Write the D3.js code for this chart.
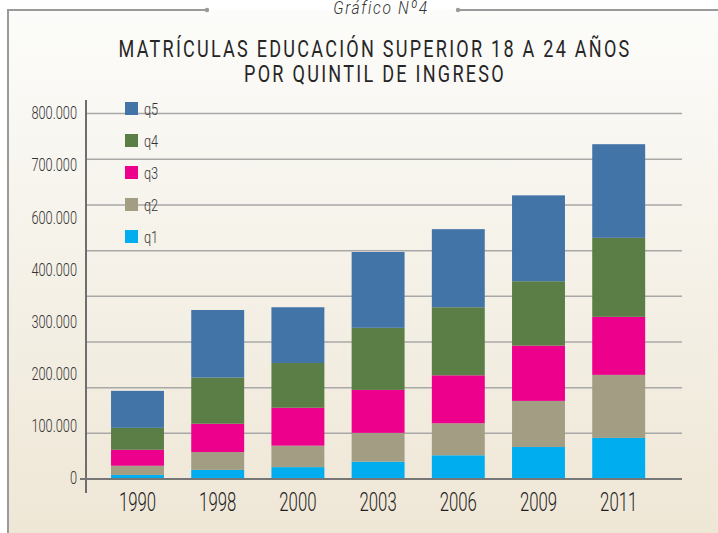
<!DOCTYPE html>
<html><head><meta charset="utf-8">
<script src="https://cdn.jsdelivr.net/npm/d3@7"></script>
<style>
html,body{margin:0;padding:0;background:#fff;}
svg{display:block;}
</style></head>
<body>
<svg id="chart" width="718" height="533"></svg>
<script>
const years = ["1990","1998","2000","2003","2006","2009","2011"];
const q1 = [9000, 20000, 26000, 38000, 52000, 70000, 90000];
const q2 = [20000, 39000, 47000, 63000, 70000, 101000, 138000];
const q3 = [35000, 62000, 83000, 94000, 105000, 121000, 127000];
const q4 = [48000, 101000, 98000, 136000, 149000, 141000, 173000];
const q5 = [81000, 148000, 122000, 166000, 171000, 188000, 205000];
const seriesNames = ["q1","q2","q3","q4","q5"];
const seriesColors = ["#00aeef","#a29d83","#ec008c","#5b7d46","#4274a8"];
const gridValues = [100000,200000,300000,400000,500000,600000,700000,800000];
const tickLabels = ["0","100.000","200.000","300.000","400.000","600.000","700.000","800.000"];
const supTitle = "Gráfico Nº4";
const titleLines = ["MATRÍCULAS EDUCACIÓN SUPERIOR 18 A 24 AÑOS","POR QUINTIL DE INGRESO"];

const svg = d3.select("#chart");
const W = 718, H = 533;
const font = "Roboto, 'Open Sans', sans-serif";

function condense(sel, factor){
  sel.each(function(){
    const len = this.getComputedTextLength();
    d3.select(this).attr("textLength", len*factor).attr("lengthAdjust","spacingAndGlyphs");
  });
}

// background gradient
const defs = svg.append("defs");
const grad = defs.append("linearGradient").attr("id","bg").attr("x1",0).attr("y1",0).attr("x2",0).attr("y2",1);
grad.append("stop").attr("offset","0%").attr("stop-color","#fcfcfa");
grad.append("stop").attr("offset","55%").attr("stop-color","#f4f0e6");
grad.append("stop").attr("offset","100%").attr("stop-color","#efe7d6");
svg.append("rect").attr("width",W).attr("height",H).attr("fill","#fff");
svg.append("rect").attr("x",8).attr("y",10).attr("width",W-8).attr("height",H-10).attr("fill","url(#bg)");

// frame
const frameColor = "#9a9a9a";
svg.append("path").attr("d",`M8,${H} L8,10 L206,10`).attr("fill","none").attr("stroke",frameColor).attr("stroke-width",2);
svg.append("line").attr("x1",458).attr("x2",W).attr("y1",10).attr("y2",10).attr("stroke",frameColor).attr("stroke-width",2);
svg.append("circle").attr("cx",207).attr("cy",10).attr("r",2.2).attr("fill",frameColor);
svg.append("circle").attr("cx",458).attr("cy",10).attr("r",2.2).attr("fill",frameColor);

const sup = svg.append("text").attr("x",381).attr("y",14).attr("text-anchor","middle")
  .attr("font-family",font).attr("font-style","italic").attr("font-weight",300).attr("font-size",19)
  .attr("fill","#333").attr("letter-spacing",2).text(supTitle);
condense(sup, 0.82);

// titles
const tW = [513, 262];
titleLines.forEach((t,i)=>{
  svg.append("text").attr("x",375).attr("y",57+i*25).attr("text-anchor","middle")
    .attr("font-family",font).attr("font-weight",400).attr("font-size",24).attr("fill","#262626")
    .attr("letter-spacing",3)
    .attr("textLength",tW[i]).attr("lengthAdjust","spacingAndGlyphs").text(t);
});

// scales
const plotLeft = 86, plotRight = 682, y0 = 479, yTop = 113.6;
const y = d3.scaleLinear().domain([0,800000]).range([y0,yTop]);
const x = d3.scaleBand().domain(years).range([97.4,658.8]).paddingInner(0.34).paddingOuter(0.17);
const yLab = d3.scalePoint().domain(tickLabels).range([478,113]);

// gridlines
svg.append("g").selectAll("line").data(gridValues).join("line")
  .attr("x1",plotLeft).attr("x2",plotRight)
  .attr("y1",d=>y(d)).attr("y2",d=>y(d))
  .attr("stroke","#a8a8a8").attr("stroke-width",1.5);

// stacked bars
const table = years.map((yr,i)=>({year:yr,q1:q1[i],q2:q2[i],q3:q3[i],q4:q4[i],q5:q5[i]}));
const stack = d3.stack().keys(seriesNames)(table);
svg.append("g").selectAll("g").data(stack).join("g")
  .attr("fill",(d,i)=>seriesColors[i])
  .selectAll("rect").data(d=>d).join("rect")
  .attr("x",d=>x(d.data.year)).attr("width",x.bandwidth())
  .attr("y",d=>y(d[1])).attr("height",d=>y(d[0])-y(d[1]));

// axes lines
svg.append("line").attr("x1",86).attr("x2",86).attr("y1",100).attr("y2",493)
  .attr("stroke","#6e6e6e").attr("stroke-width",2);
svg.append("line").attr("x1",80).attr("x2",plotRight).attr("y1",y0).attr("y2",y0)
  .attr("stroke","#777").attr("stroke-width",2);

// y labels
const yl = svg.append("g").selectAll("text").data(tickLabels).join("text")
  .attr("x",77).attr("y",d=>yLab(d)).attr("dy","0.36em").attr("text-anchor","end")
  .attr("font-family",font).attr("font-weight",300).attr("font-size",17.5).attr("fill","#333").text(d=>d);
condense(yl, 0.73);

// x labels
const xl = svg.append("g").selectAll("text").data(years).join("text")
  .attr("x",d=>x(d)+x.bandwidth()/2).attr("y",511).attr("text-anchor","middle")
  .attr("font-family",font).attr("font-weight",300).attr("font-size",25).attr("fill","#1e1e1e").text(d=>d);
condense(xl, 0.67);

// legend
const legOrder = [4,3,2,1,0];
const leg = svg.append("g").selectAll("g").data(legOrder).join("g")
  .attr("transform",(d,i)=>`translate(125,${102+i*32})`);
leg.append("rect").attr("width",13).attr("height",13).attr("fill",d=>seriesColors[d]);
const lt = leg.append("text").attr("x",19).attr("y",7).attr("dy","0.36em")
  .attr("font-family",font).attr("font-weight",300).attr("font-size",17).attr("fill","#333").text(d=>seriesNames[d]);
condense(lt, 0.75);
</script>
</body></html>
